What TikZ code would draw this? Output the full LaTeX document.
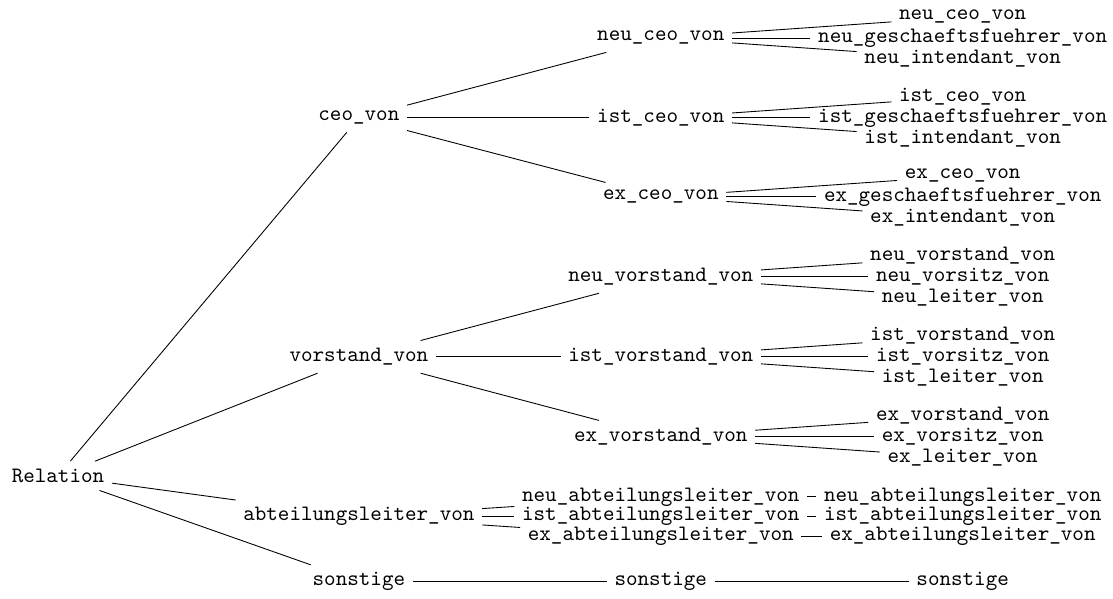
\documentclass[tikz,border=0pt]{standalone}
\begin{document}
\begin{tikzpicture}[every node/.style={font=\ttfamily}]
	\useasboundingbox (0,0) rectangle (17.77,9.56);
	% root and first level
	\node (rel) at (0.926,1.963) {Relation};
	\node (ceo) at (5.73,7.677) {ceo\_von};
	\node (vor) at (5.73,3.862) {vorstand\_von};
	\node (abt) at (5.73,1.309) {abteilungsleiter\_von};
	\node (son) at (5.73,0.271) {sonstige};
	\foreach \n in {ceo,vor,abt,son}
		\draw (rel) -- (\n);
	% ceo group
	\foreach \p/\y in {neu/8.954,ist/7.677,ex/6.416} {
		\node (c-\p) at (10.55,\y) {\p\_ceo\_von};
		\draw (ceo) -- (c-\p);
		\foreach \r/\d in {ceo/0.335,geschaeftsfuehrer/0,intendant/-0.335} {
			\node (c-\p-\r) at (15.37,\y+\d) {\p\_\r\_von};
			\draw (c-\p) -- (c-\p-\r);
		}
	}
	% vorstand group
	\foreach \p/\y in {neu/5.139,ist/3.862,ex/2.586} {
		\node (v-\p) at (10.55,\y) {\p\_vorstand\_von};
		\draw (vor) -- (v-\p);
		\foreach \r/\d in {vorstand/0.335,vorsitz/0,leiter/-0.335} {
			\node (v-\p-\r) at (15.37,\y+\d) {\p\_\r\_von};
			\draw (v-\p) -- (v-\p-\r);
		}
	}
	% abteilungsleiter group
	\foreach \p/\y in {neu/1.628,ist/1.309,ex/0.990} {
		\node (a-\p) at (10.55,\y) {\p\_abteilungsleiter\_von};
		\node (a-\p-l) at (15.37,\y) {\p\_abteilungsleiter\_von};
		\draw (abt) -- (a-\p);
		\draw (a-\p) -- (a-\p-l);
	}
	% sonstige
	\node (s-2) at (10.55,0.271) {sonstige};
	\node (s-3) at (15.37,0.271) {sonstige};
	\draw (son) -- (s-2);
	\draw (s-2) -- (s-3);
\end{tikzpicture}
\end{document}
